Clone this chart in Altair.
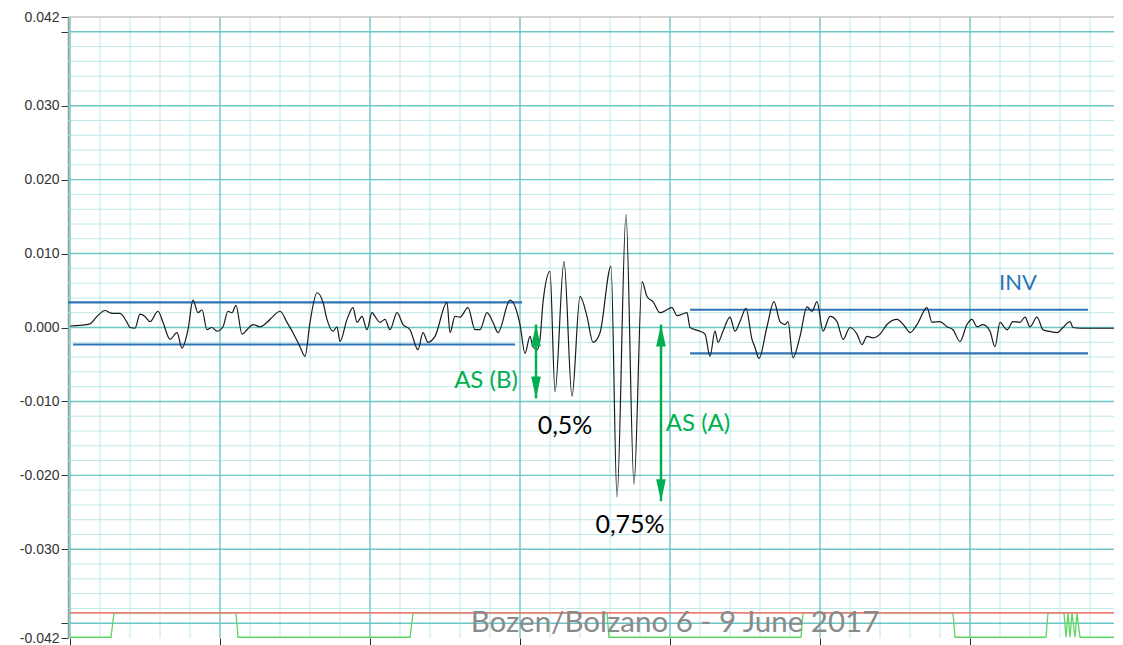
import altair as alt
import pandas as pd
import numpy as np

W, H = 1046, 621

# ---- signal (sample index, drift ratio) ----
signal = [
    (0, 0.0002), (10, 0.0003), (20, 0.0005), (27, 0.0015), (35, 0.0023), (40, 0.0020),
    (43, 0.0019), (50, 0.0019), (57, 0.0007), (60, 0.0000), (65, -0.0001), (70, 0.0018),
    (75, 0.0015), (80, 0.0008), (88, 0.0022), (93, 0.0007), (100, -0.0016), (107, -0.0007),
    (112, -0.0028), (118, -0.0003), (123, 0.0037), (128, 0.0020), (132, 0.0024), (137, -0.0003),
    (142, 0.0000), (147, -0.0005), (153, 0.0001), (158, 0.0022), (162, 0.0020), (166, 0.0030),
    (172, -0.0009), (177, -0.0003), (183, 0.0004), (190, 0.0001), (197, 0.0007), (203, 0.0015),
    (210, 0.0022), (217, 0.0007), (223, -0.0007), (230, -0.0026), (235, -0.0039), (240, 0.0007),
    (247, 0.0047), (253, 0.0034), (257, 0.0011), (263, -0.0005), (267, 0.0001), (270, -0.0019),
    (277, 0.0011), (283, 0.0027), (287, 0.0007), (292, 0.0015), (297, -0.0003), (302, 0.0020),
    (305, 0.0015), (310, 0.0007), (315, 0.0011), (320, -0.0003), (327, 0.0020), (333, 0.0004),
    (340, -0.0003), (348, -0.0030), (353, -0.0007), (358, -0.0020), (365, -0.0012), (377, 0.0034),
    (380, -0.0007), (385, 0.0015), (390, 0.0014), (398, 0.0027), (405, -0.0003), (410, -0.0003),
    (417, 0.0020), (423, 0.0007), (428, -0.0007), (440, 0.0037), (450, 0.0004), (455, -0.0035),
    (460, -0.0012), (463, -0.0026), (467, -0.0030), (470, -0.0016), (473, 0.0034), (480, 0.0076),
    (485, -0.0087), (494, 0.0089), (502, -0.0093), (510, 0.0042), (517, 0.0015), (523, -0.0020),
    (530, -0.0007), (541, 0.0083), (547, -0.0229), (556, 0.0153), (564, -0.0212), (572, 0.0062),
    (577, 0.0042), (583, 0.0035), (590, 0.0020), (597, 0.0024), (602, 0.0027), (607, 0.0016),
    (617, 0.0020), (620, 0.0000), (630, -0.0005), (635, -0.0009), (640, -0.0039), (645, -0.0005),
    (648, -0.0020), (653, -0.0005), (660, 0.0014), (665, -0.0005), (670, 0.0008), (676, 0.0026),
    (682, -0.0016), (685, -0.0027), (689, -0.0042), (697, 0.0001), (704, 0.0035), (710, 0.0008),
    (715, 0.0004), (718, 0.0008), (723, -0.0041), (730, -0.0012), (737, 0.0028), (742, 0.0022),
    (747, 0.0035), (753, -0.0005), (760, 0.0015), (767, 0.0008), (773, -0.0016), (780, 0.0000),
    (787, -0.0009), (792, -0.0023), (797, -0.0012), (803, -0.0014), (810, -0.0009), (817, 0.0004),
    (827, 0.0011), (835, 0.0001), (840, -0.0007), (847, 0.0004), (857, 0.0027), (862, 0.0007),
    (870, 0.0008), (877, 0.0001), (883, -0.0003), (890, -0.0019), (897, 0.0004), (902, 0.0011),
    (907, 0.0001), (913, 0.0004), (920, -0.0005), (925, -0.0026), (930, 0.0007), (937, -0.0003),
    (943, 0.0008), (950, 0.0007), (955, 0.0014), (960, 0.0001), (967, 0.0014), (973, -0.0003),
    (978, -0.0005), (987, -0.0007), (993, 0.0000), (1000, 0.0008), (1003, 0.0000), (1010, -0.0001),
    (1020, -0.0001), (1050, -0.0001),
]

# ---- status trace (green) ----
status_x = [0, 41, 44, 166, 168, 340, 343, 537, 539, 731, 733, 883, 885, 976, 978, 994,
            996, 998, 1000, 1002, 1005, 1007, 1010, 1051]
LOW, HIGH = -0.0419, -0.0386
status_v = [LOW, LOW, HIGH, HIGH, LOW, LOW, HIGH, HIGH, LOW, LOW, HIGH, HIGH, LOW, LOW, HIGH, HIGH,
            LOW, HIGH, LOW, HIGH, LOW, HIGH, LOW, LOW]
red_level = [-0.0386]
top_level = [0.042]

# ---- INV bands ----
band_x1 = [-2, 3, 620, 620]
band_x2 = [452, 445, 1018, 1018]
band_v = [0.0034, -0.0023, 0.0024, -0.0035]

# ---- AS arrows ----
arrow_x = [466, 591]
arrow_top = [0.0004, 0.0004]
arrow_bottom = [-0.0096, -0.0235]

# ---- labels ----
green_text = ["AS (B)", "AS (A)"]
green_tx = [416, 628]
green_tv = [-0.0073, -0.0131]
black_text = ["0,5%", "0,75%"]
black_tx = [495, 560]
black_tv = [-0.0133, -0.0267]
inv_text = ["INV"]
inv_tx = [948]
inv_tv = [0.0060]
foot_text = ["Bozen/Bolzano  6 - 9 June 2017"]
foot_tx = [605]
foot_tv = [-0.0400]

# ---- axes / grid ----
y_tick_values = [0.042, 0.04, 0.03, 0.02, 0.01, 0.0, -0.01, -0.02, -0.03, -0.04, -0.042]
x_major = [0, 150, 300, 450, 600, 750, 900, 1050]
x_minor = [v for v in range(0, 1051, 30) if v not in x_major]
y_major = [-0.04, -0.03, -0.02, -0.01, 0.0, 0.01, 0.02, 0.03, 0.04]
y_minor = [round(v, 3) for v in np.arange(-0.040, 0.0401, 0.002)]
y_minor = [v for v in y_minor if all(abs(v - m) > 1e-9 for m in y_major)]

xscale = alt.Scale(domain=[-2, 1044], nice=False, zero=False)
yscale = alt.Scale(domain=[-0.042, 0.042], nice=False, zero=False)
xaxis = alt.Axis(values=x_major, labels=False, ticks=True, tickColor="#222222", tickSize=7,
                 tickWidth=1, domain=False, grid=False, title=None)
yaxis = alt.Axis(values=y_tick_values,
                 labelExpr="abs(datum.value) == 0.04 ? '' : replace(format(datum.value, '.3f'), '\u2212', '-')",
                 tickColor="#333333", tickSize=7, tickWidth=1, domain=True, domainColor="#999999",
                 domainWidth=1.5, grid=False, title=None, labelFontSize=14, labelColor="#333333",
                 labelFont="Liberation Sans", labelPadding=2)


def X(f):
    return alt.X(f, type="quantitative", scale=xscale, axis=xaxis)


def Y(f):
    return alt.Y(f, type="quantitative", scale=yscale, axis=yaxis)


df_sig = pd.DataFrame(signal, columns=["x", "v"])
df_status = pd.DataFrame({"x": status_x, "v": status_v})
df_red = pd.DataFrame({"v": red_level})
df_top = pd.DataFrame({"v": top_level})
df_band = pd.DataFrame({"x": band_x1, "x2": band_x2, "v": band_v})
df_arrow = pd.DataFrame({"x": arrow_x, "top": arrow_top, "bottom": arrow_bottom})
df_gt = pd.DataFrame({"t": green_text, "x": green_tx, "v": green_tv})
df_bt = pd.DataFrame({"t": black_text, "x": black_tx, "v": black_tv})
df_it = pd.DataFrame({"t": inv_text, "x": inv_tx, "v": inv_tv})
df_ft = pd.DataFrame({"t": foot_text, "x": foot_tx, "v": foot_tv})

vminor = alt.Chart(pd.DataFrame({"x": x_minor})).mark_rule(color="#bfe8e8", strokeWidth=1).encode(
    x=X("x"), y=alt.value(0), y2=alt.value(H))
hminor = alt.Chart(pd.DataFrame({"v": y_minor})).mark_rule(color="#bfe8e8", strokeWidth=1).encode(
    y=Y("v"), x=alt.value(0), x2=alt.value(W))
vmajor = alt.Chart(pd.DataFrame({"x": x_major})).mark_rule(color="#6cc6c6", strokeWidth=1.4).encode(
    x=X("x"), y=alt.value(0), y2=alt.value(H))
hmajor = alt.Chart(pd.DataFrame({"v": y_major})).mark_rule(color="#6cc6c6", strokeWidth=1.4).encode(
    y=Y("v"), x=alt.value(0), x2=alt.value(W))
topline = alt.Chart(df_top).mark_rule(color="#a8a8a8", strokeWidth=1).encode(
    y=Y("v"), x=alt.value(0), x2=alt.value(W))

status = alt.Chart(df_status).mark_line(color="#5fd65f", strokeWidth=1.3, interpolate="linear",
                                        clip=True).encode(x=X("x"), y=Y("v"), order="x:Q")
red = alt.Chart(df_red).mark_rule(color="#e8807a", strokeWidth=1.8).encode(
    y=Y("v"), x=alt.value(2), x2=alt.value(W))

bands = alt.Chart(df_band).mark_rule(color="#2e75b6", strokeWidth=2.2).encode(
    x=X("x"), x2="x2:Q", y=Y("v"))

sig = alt.Chart(df_sig).mark_line(color="#1a1a1a", strokeWidth=1.2, interpolate="monotone",
                                  clip=True).encode(x=X("x"), y=Y("v"), order="x:Q")

arrow_line = alt.Chart(df_arrow).mark_rule(color="#00b050", strokeWidth=2.5).encode(
    x=X("x"), y=Y("top"), y2="bottom:Q")
arrow_up = alt.Chart(df_arrow).mark_point(
    shape="M0,0L-0.22,1L0.22,1Z", filled=True, color="#00b050", opacity=1, size=1936).encode(
    x=X("x"), y=Y("top"))
arrow_down = alt.Chart(df_arrow).mark_point(
    shape="M0,0L-0.22,-1L0.22,-1Z", filled=True, color="#00b050", opacity=1, size=1936).encode(
    x=X("x"), y=Y("bottom"))

gtext = alt.Chart(df_gt).mark_text(font="Lato", fontSize=24, color="#00b050", align="center",
                                   baseline="middle").encode(x=X("x"), y=Y("v"), text="t:N")
btext = alt.Chart(df_bt).mark_text(font="Lato", fontSize=25, color="#000000", align="center",
                                   baseline="middle").encode(x=X("x"), y=Y("v"), text="t:N")
itext = alt.Chart(df_it).mark_text(font="Lato", fontSize=22, color="#2e75b6", align="center",
                                   baseline="middle").encode(x=X("x"), y=Y("v"), text="t:N")
ftext = alt.Chart(df_ft).mark_text(font="Lato", fontSize=29.5, color="#8a8a8a", align="center",
                                   baseline="middle").encode(x=X("x"), y=Y("v"), text="t:N")

chart = alt.layer(
    vminor, hminor, vmajor, hmajor, topline, status, red, bands, sig,
    arrow_line, arrow_up, arrow_down, gtext, btext, itext, ftext
).properties(
    width=W, height=H,
    autosize=alt.AutoSizeParams(type="none"),
    padding={"left": 60, "top": 9, "right": 0, "bottom": 12},
    background="white",
).configure_view(strokeWidth=0)

chart.save("out.html", embed_options={"renderer": "svg", "actions": False})
